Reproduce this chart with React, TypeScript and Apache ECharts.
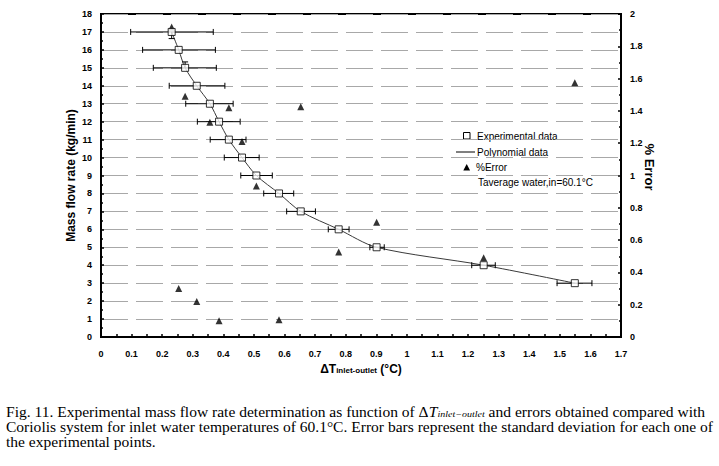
import React, { useEffect, useRef } from "react";
import * as echarts from "echarts";

// Mass flow rate (kg/min) of the experimental points
const massFlow = [17, 16, 15, 14, 13, 12, 11, 10, 9, 8, 7, 6, 5, 4, 3];
// ΔT inlet-outlet (°C)
const deltaT = [0.231, 0.254, 0.275, 0.313, 0.356, 0.386, 0.418, 0.461, 0.508, 0.582, 0.653, 0.777, 0.901, 1.251, 1.549];
// horizontal error bar bounds (standard deviation)
const deltaTLow = [0.097, 0.136, 0.171, 0.223, 0.277, 0.315, 0.357, 0.403, 0.457, 0.532, 0.607, 0.743, 0.879, 1.212, 1.491];
const deltaTHigh = [0.367, 0.374, 0.377, 0.405, 0.432, 0.455, 0.474, 0.517, 0.56, 0.63, 0.701, 0.811, 0.926, 1.289, 1.605];
// vertical error bar bounds
const massLow = [16.63, 16, 15, 14, 13, 12, 11, 10, 9, 8, 7, 6, 5, 4, 3];
const massHigh = [17, 16, 15.33, 14, 13, 12, 11, 10, 9, 8, 7, 6, 5, 4, 3];
// % Error compared with Coriolis system
const errorPct = [1.92, 0.3, 1.49, 0.22, 1.33, 0.1, 1.42, 1.21, 0.935, 0.107, 1.426, 0.526, 0.71, 0.49, 1.575];

const sans = "Arial, 'Liberation Sans', Helvetica, sans-serif";
const serif = "'Times New Roman', 'Liberation Serif', serif";

export default function App() {
  const ref = useRef<HTMLDivElement>(null);
  useEffect(() => {
    const chart = echarts.init(ref.current!, null, { renderer: "svg" });
    const exp = deltaT.map((x, i) => [x, massFlow[i]]);
    const bars = deltaT.map((x, i) => [x, massFlow[i], deltaTLow[i], deltaTHigh[i], massLow[i], massHigh[i]]);
    const errPts = deltaT.map((x, i) => [x, errorPct[i]]);
    const ln = { stroke: "#000", lineWidth: 1 };
    chart.setOption({
      animation: false,
      grid: { left: 101, right: 98, top: 14, bottom: 129, show: true, borderColor: "#000", borderWidth: 2 },
      xAxis: {
        type: "value",
        min: 0,
        max: 1.7,
        interval: 0.1,
        name: "{b|ΔT}{s|inlet-outlet}{b| (°C)}",
        nameLocation: "middle",
        nameGap: 26,
        nameTextStyle: {
          rich: {
            b: { fontFamily: sans, fontSize: 12, fontWeight: "bold", color: "#000" },
            s: { fontFamily: sans, fontSize: 8, fontWeight: "bold", color: "#000", padding: [2, 0, 0, 0] },
          },
        },
        axisLine: { lineStyle: { color: "#000", width: 2 } },
        axisTick: { inside: true, length: 3, lineStyle: { color: "#000", width: 1.5 } },
        minorTick: { show: true, splitNumber: 2, length: 3, lineStyle: { color: "#000", width: 1.5 } },
        axisLabel: { margin: 12, fontFamily: sans, fontSize: 9, fontWeight: "bold", color: "#000" },
        splitLine: { show: false },
      },
      yAxis: [
        {
          type: "value",
          min: 0,
          max: 18,
          interval: 1,
          name: "Mass flow rate (kg/min)",
          nameLocation: "middle",
          nameGap: 24,
          nameMoveOverlap: false,
          nameTextStyle: { fontFamily: sans, fontSize: 12, fontWeight: "bold", color: "#000" },
          axisLine: { show: true, lineStyle: { color: "#000", width: 2 } },
          axisTick: { inside: true, length: 3, lineStyle: { color: "#000", width: 1.5 } },
          minorTick: { show: true, splitNumber: 2, length: 2, lineStyle: { color: "#000", width: 1.5 } },
          axisLabel: { margin: 9, fontFamily: sans, fontSize: 9, fontWeight: "bold", color: "#000" },
          splitLine: { show: true, lineStyle: { color: "#a8a8a8", width: 1, type: [27, 8] } },
        },
        {
          type: "value",
          min: 0,
          max: 2,
          interval: 0.2,
          position: "right",
          axisLine: { show: true, lineStyle: { color: "#000", width: 2 } },
          axisTick: { inside: true, length: 3, lineStyle: { color: "#000", width: 1.5 } },
          minorTick: { show: true, splitNumber: 2, length: 2, lineStyle: { color: "#000", width: 1.5 } },
          axisLabel: { margin: 9, fontFamily: sans, fontSize: 9, fontWeight: "bold", color: "#000" },
          splitLine: { show: false },
        },
      ],
      series: [
        {
          name: "Polynomial data",
          type: "line",
          data: exp,
          smooth: 0.3,
          showSymbol: false,
          lineStyle: { color: "#3a3a3a", width: 1 },
          z: 2,
        },
        {
          name: "Error bars",
          type: "custom",
          data: bars,
          encode: { x: [0, 2, 3], y: [1, 4, 5] },
          z: 3,
          renderItem: (_p: any, api: any) => {
            const x = api.value(0);
            const y = api.value(1);
            const lo = api.coord([api.value(2), y]);
            const hi = api.coord([api.value(3), y]);
            const c = 3;
            const children: any[] = [
              { type: "line", shape: { x1: lo[0], y1: lo[1], x2: hi[0], y2: hi[1] }, style: ln },
              { type: "line", shape: { x1: lo[0], y1: lo[1] - c, x2: lo[0], y2: lo[1] + c }, style: ln },
              { type: "line", shape: { x1: hi[0], y1: hi[1] - c, x2: hi[0], y2: hi[1] + c }, style: ln },
            ];
            const yl = api.value(4);
            const yh = api.value(5);
            if (yl !== y || yh !== y) {
              const a = api.coord([x, yl]);
              const b = api.coord([x, yh]);
              children.push({ type: "line", shape: { x1: a[0], y1: a[1], x2: b[0], y2: b[1] }, style: ln });
              if (yl !== y) children.push({ type: "line", shape: { x1: a[0] - c, y1: a[1], x2: a[0] + c, y2: a[1] }, style: ln });
              if (yh !== y) children.push({ type: "line", shape: { x1: b[0] - c, y1: b[1], x2: b[0] + c, y2: b[1] }, style: ln });
            }
            return { type: "group", children };
          },
        },
        {
          name: "%Error",
          type: "scatter",
          yAxisIndex: 1,
          data: errPts,
          symbol: "triangle",
          symbolSize: [7, 7],
          itemStyle: { color: "#000" },
          z: 4,
        },
        {
          name: "Experimental data",
          type: "scatter",
          data: exp,
          symbol: "rect",
          symbolSize: 7,
          itemStyle: { color: "#fff", borderColor: "#000", borderWidth: 1 },
          z: 5,
        },
      ],
      graphic: [
        { type: "rect", shape: { x: 463.5, y: 132.5, width: 6.5, height: 6.5 }, style: { fill: "#fff", stroke: "#000", lineWidth: 1 } },
        { type: "line", shape: { x1: 456, y1: 152, x2: 475, y2: 152 }, style: { stroke: "#000", lineWidth: 1 } },
        { type: "polygon", shape: { points: [[466.7, 164], [463.3, 170.5], [470.1, 170.5]] }, style: { fill: "#000" } },
        { type: "text", x: 477, y: 136, style: { text: "Experimental data", fontFamily: sans, fontSize: 10, fill: "#000", verticalAlign: "middle" } },
        { type: "text", x: 477, y: 152, style: { text: "Polynomial data", fontFamily: sans, fontSize: 10, fill: "#000", verticalAlign: "middle" } },
        { type: "text", x: 476, y: 167, style: { text: "%Error", fontFamily: sans, fontSize: 10, fill: "#000", verticalAlign: "middle" } },
        { type: "text", x: 478, y: 182, style: { text: "Taverage water,in=60.1°C", fontFamily: sans, fontSize: 10, fill: "#000", verticalAlign: "middle" } },
        {
          type: "text",
          x: 649,
          y: 167,
          rotation: -Math.PI / 2,
          style: { text: "% Error", fontFamily: sans, fontSize: 13, fontWeight: "bold", fill: "#000", align: "center", verticalAlign: "middle" },
        },
        {
          type: "text",
          x: 6,
          y: 412,
          scaleX: 1.11,
          style: {
            text: "{r|Fig. 11. Experimental mass flow rate determination as function of Δ}{i|T}{s|inlet−outlet}{r| and errors obtained compared with}",
            verticalAlign: "middle",
            rich: {
              r: { fontFamily: serif, fontSize: 14, fill: "#000", lineHeight: 14 },
              i: { fontFamily: serif, fontSize: 14, fontStyle: "italic", fill: "#000", lineHeight: 14 },
              s: { fontFamily: serif, fontSize: 9, fontStyle: "italic", fill: "#000", lineHeight: 14, padding: [5, 0, 0, 0] },
            },
          },
        },
        {
          type: "text",
          x: 6,
          y: 427,
          scaleX: 1.11,
          style: {
            text: "Coriolis system for inlet water temperatures of 60.1°C. Error bars represent the standard deviation for each one of",
            fontFamily: serif,
            fontSize: 14,
            lineHeight: 14,
            fill: "#000",
            verticalAlign: "middle",
          },
        },
        {
          type: "text",
          x: 6,
          y: 442,
          scaleX: 1.11,
          style: { text: "the experimental points.", fontFamily: serif, fontSize: 14, lineHeight: 14, fill: "#000", verticalAlign: "middle" },
        },
      ],
    });
    return () => chart.dispose();
  }, []);
  return <div ref={ref} style={{ position: "absolute", left: 0, top: 0, width: 719, height: 466 }} />;
}
